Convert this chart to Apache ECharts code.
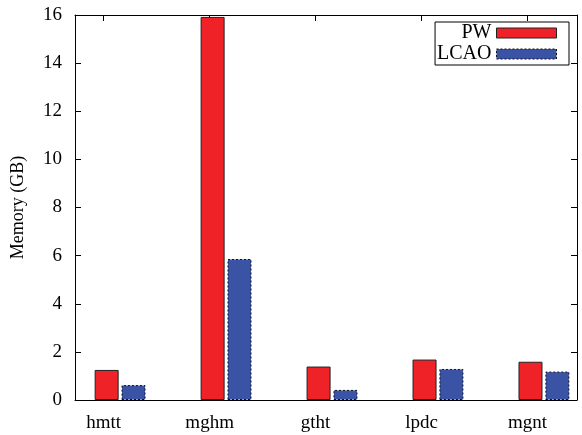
<!DOCTYPE html>
<html>
<head>
<meta charset="utf-8">
<script src="https://cdn.jsdelivr.net/npm/echarts@6/dist/echarts.min.js"></script>
<style>html,body{margin:0;padding:0;background:#fff}#c{width:582px;height:435px}</style>
</head>
<body>
<div id="c"></div>
<script>
var categories = ['hmtt', 'mghm', 'gtht', 'lpdc', 'mgnt'];
var pwValues = [1.25, 15.92, 1.39, 1.68, 1.59];
var lcaoValues = [0.62, 5.86, 0.42, 1.29, 1.18];
var yTicks = [0, 2, 4, 6, 8, 10, 12, 14, 16];
var labelShift = 0.155;

var FONT = 'Liberation Serif';
var chart = echarts.init(document.getElementById('c'), null, {renderer: 'canvas'});
var tickPos = categories.map(function (c, i) { return i - labelShift; });
function toXY(vals) { return vals.map(function (v, i) { return [i, v]; }); }

var option = {
  animation: false,
  backgroundColor: '#fff',
  grid: {left: 75, right: 5, top: 15, bottom: 35, containLabel: false},
  legend: {
    right: 13, top: 22, orient: 'vertical', align: 'right', icon: 'rect',
    itemWidth: 60, itemHeight: 10, itemGap: 1,
    borderColor: '#000', borderWidth: 1, padding: [1, 12, 1, 2],
    textStyle: {fontFamily: FONT, fontSize: 20, color: '#000', padding: [0, 0, 0, 0]},
    data: [
      {name: 'PW', itemStyle: {borderColor: '#222', borderWidth: 1}},
      {name: 'LCAO', itemStyle: {borderColor: '#111', borderWidth: 1, borderType: [2, 2]}}
    ]
  },
  xAxis: [{
    type: 'value', min: -0.4255, max: 4.312, position: 'bottom',
    axisLine: {show: true, onZero: false, lineStyle: {color: '#000', width: 1}},
    axisTick: {show: true, inside: true, length: 6, customValues: tickPos, lineStyle: {color: '#000'}},
    axisLabel: {
      show: true, customValues: tickPos, margin: 14,
      fontFamily: FONT, fontSize: 19, color: '#000',
      formatter: function (v) { return categories[Math.round(v + labelShift)]; }
    },
    splitLine: {show: false}
  }, {
    type: 'value', min: -0.4255, max: 4.312, position: 'top',
    axisLine: {show: true, onZero: false, lineStyle: {color: '#000', width: 1}},
    axisTick: {show: true, inside: true, length: 6, customValues: tickPos, lineStyle: {color: '#000'}},
    axisLabel: {show: false},
    splitLine: {show: false}
  }],
  yAxis: [{
    type: 'value', min: 0, max: 16, interval: 2, position: 'left',
    name: 'Memory (GB)', nameLocation: 'middle', nameGap: 48,
    nameTextStyle: {fontFamily: FONT, fontSize: 18, color: '#000'},
    axisLine: {show: true, onZero: false, lineStyle: {color: '#000', width: 1}},
    axisTick: {show: true, inside: true, length: 6, lineStyle: {color: '#000'}},
    axisLabel: {fontFamily: FONT, fontSize: 19, color: '#000', margin: 13,
      formatter: function (v) { return yTicks.indexOf(v) >= 0 ? String(v) : ''; }},
    splitLine: {show: false}
  }, {
    type: 'value', min: 0, max: 16, interval: 2, position: 'right',
    axisLine: {show: true, onZero: false, lineStyle: {color: '#000', width: 1}},
    axisTick: {show: true, inside: true, length: 6, lineStyle: {color: '#000'}},
    axisLabel: {show: false},
    splitLine: {show: false}
  }],
  series: [{
    name: 'PW', type: 'bar', xAxisIndex: 0, yAxisIndex: 0,
    data: toXY(pwValues), barWidth: 24, barGap: '12%',
    itemStyle: {color: '#EE2227', borderColor: '#222', borderWidth: 1}
  }, {
    name: 'LCAO', type: 'bar', xAxisIndex: 0, yAxisIndex: 0,
    data: toXY(lcaoValues), barWidth: 24, barGap: '12%',
    itemStyle: {color: '#3A53A4', borderColor: '#111', borderWidth: 1, borderType: [2, 2]}
  }]
};
chart.setOption(option);
</script>
</body>
</html>
